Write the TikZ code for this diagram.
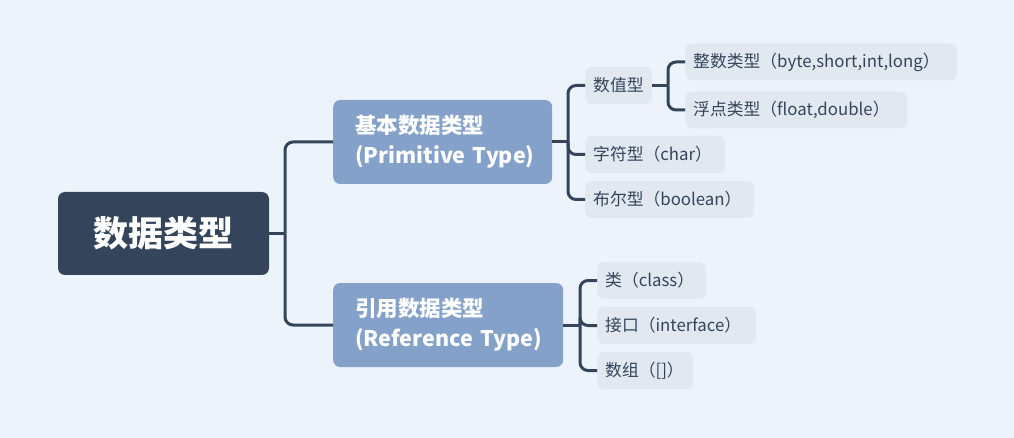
\documentclass[tikz,border=0pt]{standalone}
\usepackage{fontspec}
\setmainfont{Noto Sans CJK SC}
\newfontfamily\cjk{Noto Sans CJK SC}
\definecolor{bgc}{RGB}{237,243,250}
\definecolor{darkc}{RGB}{52,69,91}
\definecolor{branchc}{RGB}{132,161,201}
\definecolor{leafc}{RGB}{225,232,240}
\tikzset{
  rootbox/.style={fill=darkc, rounded corners=7pt, text=white, font=\cjk\bfseries\fontsize{35}{40}\selectfont, minimum width=211pt, minimum height=83pt, inner sep=0pt},
  branchbox/.style={fill=branchc, rounded corners=7pt, text=white, font=\cjk\bfseries\fontsize{21.5}{30}\selectfont, minimum height=84pt, inner xsep=22pt, inner ysep=0pt, align=left, anchor=west},
  leafbox/.style={fill=leafc, rounded corners=7pt, text=darkc, font=\cjk\fontsize{16.8}{20}\selectfont, minimum height=37pt, inner xsep=8pt, inner ysep=0pt, align=left, anchor=west},
  conn/.style={draw=darkc, line width=3pt, rounded corners=8pt},
}
\begin{document}
\begin{tikzpicture}[x=1pt,y=-1pt]
\useasboundingbox[fill=bgc] (0,0) rectangle (1014,438);
\node[rootbox] (root) at (163.5,233.5) {数据类型};
\node[branchbox, text width=175pt] (b1) at (333,142) {基本数据类型\\\mbox{(Primitive Type)}};
\node[branchbox, text width=186pt] (b2) at (333,325) {引用数据类型\\\mbox{(Reference Type)}};
\node[leafbox, text width=51pt] (num) at (585,85.5) {数值型};
\node[leafbox, text width=256pt] (int) at (685,62) {整数类型（byte,short,int,long）};
\node[leafbox, text width=206pt] (flt) at (685,110) {浮点类型（float,double）};
\node[leafbox, text width=124pt] (chr) at (585,154.5) {字符型（char）};
\node[leafbox, text width=153pt] (bool) at (585,199.5) {布尔型（boolean）};
\node[leafbox, text width=93pt] (cls) at (597,280.5) {类（class）};
\node[leafbox, text width=143pt] (ifc) at (597,325.5) {接口（interface）};
\node[leafbox, text width=80pt] (arr) at (597,370.5) {数组（[]）};
\coordinate (j0) at (285,233.5);
\coordinate (j1) at (568,142);
\coordinate (j2) at (580,325);
\coordinate (j3) at (668,85.5);
\draw[conn] (root.east) -- (j0);
\draw[conn] (j0) |- (b1.west);
\draw[conn] (j0) |- (b2.west);
\draw[conn] (b1.east) -- (j1);
\draw[conn] (j1) |- (num.west);
\draw[conn] (j1) |- (chr.west);
\draw[conn] (j1) |- (bool.west);
\draw[conn] (b2.east) -- (j2);
\draw[conn] (j2) |- (cls.west);
\draw[conn] (j2) |- (ifc.west);
\draw[conn] (j2) |- (arr.west);
\draw[conn] (num.east) -- (j3);
\draw[conn] (j3) |- (int.west);
\draw[conn] (j3) |- (flt.west);
\end{tikzpicture}
\end{document}
